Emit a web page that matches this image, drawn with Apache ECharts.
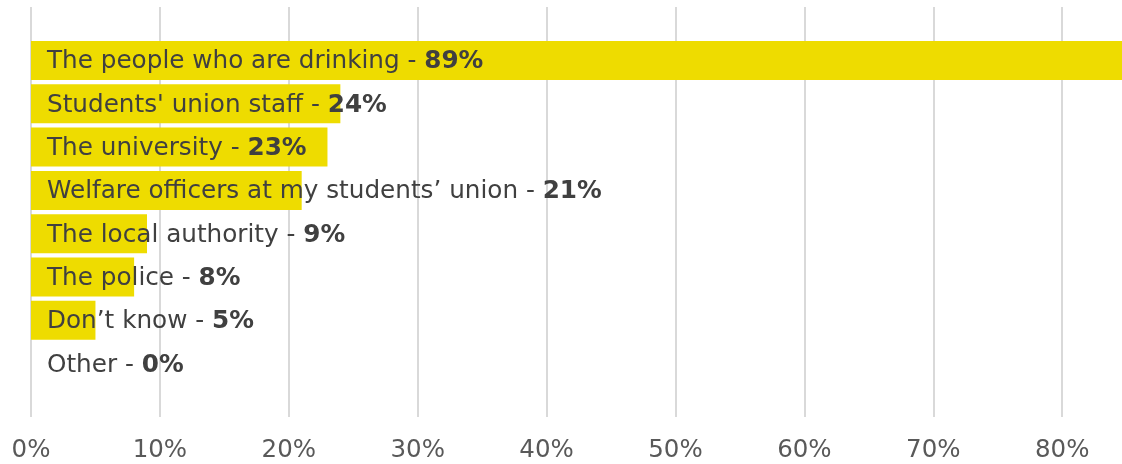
<!DOCTYPE html>
<html>
<head>
<meta charset="utf-8">
<script src="https://cdn.jsdelivr.net/npm/echarts@6/dist/echarts.min.js"></script>
<style>
  html, body { margin: 0; padding: 0; background: #fff; }
  #main { width: 1122px; height: 464px; }
</style>
</head>
<body>
<div id="main"></div>
<script>
// 数据
var categories = [
  'The people who are drinking',
  "Students' union staff",
  'The university',
  'Welfare officers at my students\u2019 union',
  'The local authority',
  'The police',
  'Don\u2019t know',
  'Other'
];
var values = [89, 24, 23, 21, 9, 8, 5, 0];
var xMax = 84.64; // 右侧被裁掉，89% 的条超出画面

var chart = echarts.init(document.getElementById('main'));
var font = '"DejaVu Sans"';

var option = {
  animation: false,
  grid: [
    // 网格线 + 底部刻度
    { left: 31, right: 0, top: 7, bottom: 47 },
    // 条形
    { left: 31, right: 0, top: 38.85, height: 346.4 }
  ],
  xAxis: [
    {
      gridIndex: 0,
      type: 'value',
      min: 0,
      max: xMax,
      interval: 10,
      axisLine: { show: false },
      axisTick: { show: false },
      splitLine: { show: true, showMaxLine: false, lineStyle: { color: '#d9d9d9', width: 2 } },
      axisLabel: {
        formatter: '{value}%',
        showMaxLabel: false,
        fontSize: 24.5,
        fontFamily: font,
        color: '#595959',
        margin: 21
      }
    },
    {
      gridIndex: 1,
      type: 'value',
      min: 0,
      max: xMax,
      show: false
    }
  ],
  yAxis: [
    { gridIndex: 0, type: 'value', show: false },
    { gridIndex: 1, type: 'category', data: categories, inverse: true, show: false }
  ],
  series: [
    {
      type: 'bar',
      xAxisIndex: 1,
      yAxisIndex: 1,
      data: values,
      barWidth: 39,
      clip: true,
      itemStyle: { color: '#EEDC00' },
      label: {
        show: true,
        position: 'insideLeft',
        distance: 16,
        offset: [0, 1.5],
        color: '#404040',
        textBorderWidth: 0,
        formatter: function (p) {
          return '{a|' + p.name + ' - }{b|' + p.value + '%}';
        },
        rich: {
          a: { fontSize: 24.7, fontFamily: font, color: '#404040' },
          b: { fontSize: 24.7, fontFamily: font, color: '#404040', fontWeight: 'bold' }
        }
      }
    }
  ]
};

chart.setOption(option);
</script>
</body>
</html>
